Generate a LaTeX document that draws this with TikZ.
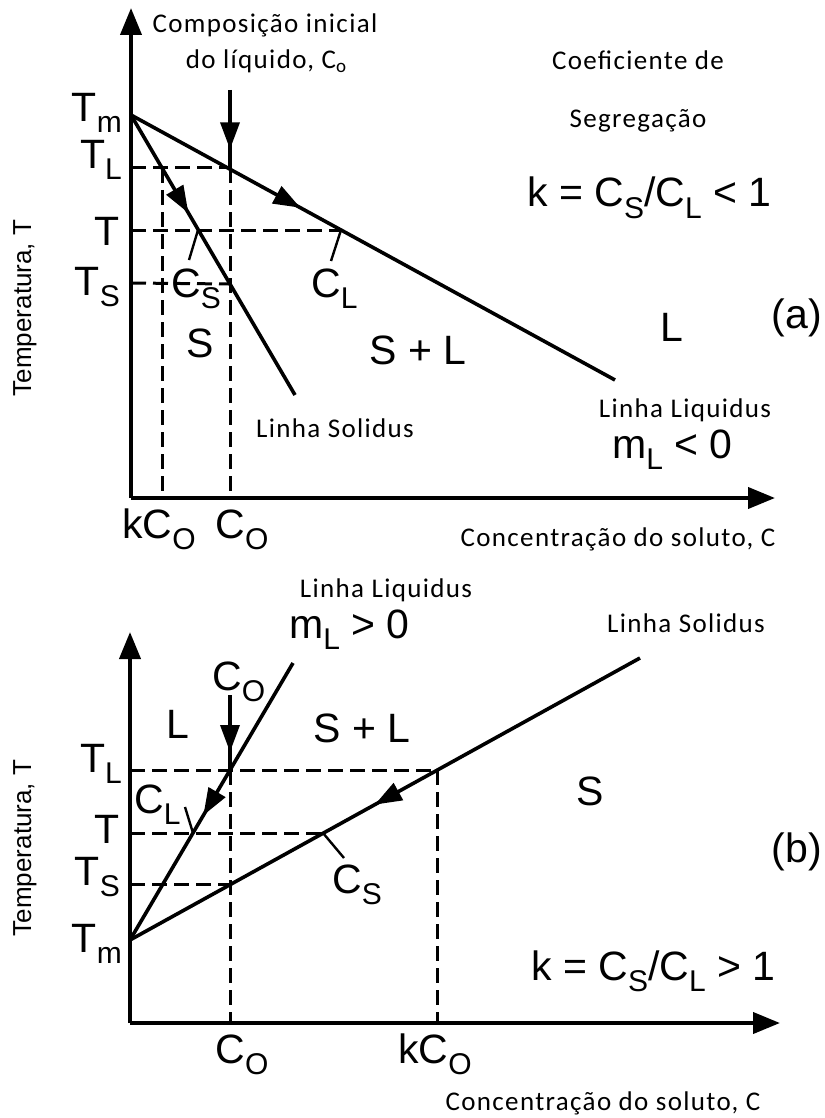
\documentclass[tikz,border=0pt]{standalone}
\usepackage{fontspec}
\setmainfont{Liberation Sans}
\newfontfamily\calibri[LetterSpace=5]{Carlito}
\usetikzlibrary{arrows.meta, positioning, decorations.markings}

\newcommand{\lowsub}[1]{\raisebox{-11pt}{\fontsize{30}{30}\selectfont #1}}
\newcommand{\notesub}[1]{\raisebox{-4pt}{\fontsize{19}{19}\selectfont #1}}

\begin{document}
\begin{tikzpicture}[
  x=1pt, y=-1pt,
  big/.style={font=\fontsize{41}{44}\selectfont, inner sep=0pt},
  note/.style={font=\calibri\fontsize{27}{30}\selectfont, inner sep=0pt},
  ylab/.style={font=\fontsize{26}{28}\selectfont, inner sep=0pt, rotate=90},
  axis/.style={line width=4pt, -{Triangle[length=27pt, width=21pt]}},
  curve/.style={line width=3.6pt},
  guide/.style={line width=3pt, dash pattern=on 15pt off 7pt},
  lead/.style={line width=2.4pt},
  flow/.style={postaction={decorate}, decoration={markings,
      mark=at position #1 with {\arrow{Triangle[length=27pt, width=19pt]}}}},
  ]
\useasboundingbox (0,0) rectangle (824,1118);

% ---------------- (a) k < 1 ----------------
\coordinate (aO) at (131,498);
\coordinate (aYtop) at (131,8);
\coordinate (aXend) at (775,498);
\coordinate (aTm) at (131,115);
\coordinate (aLend) at (615,380);
\coordinate (aSend) at (295,395);
\coordinate (aTL) at (131,168);
\coordinate (aT) at (131,230);
\coordinate (aTS) at (131,283);
\coordinate (aC0top) at (230,90);
\coordinate (aC0L) at (230,168);
\coordinate (aC0S) at (230,284);
\coordinate (aC0ax) at (230,498);
\coordinate (akC0) at (162,168);
\coordinate (akC0ax) at (162,498);
\coordinate (aCS) at (198,230);
\coordinate (aCL) at (341,230);
\coordinate (aCSlead) at (189,260);
\coordinate (aCLlead) at (331,261);

\draw[guide] (aTL) -- (aC0L);
\draw[guide] (aT) -- (aCL);
\draw[guide] (aTS) -- (aC0S);
\draw[guide] (akC0) -- (akC0ax);
\draw[guide] (aC0L) -- (aC0ax);
\draw[axis] (aO) -- (aYtop);
\draw[axis] (aO) -- (aXend);
\draw[curve, flow=0.35] (aTm) -- (aLend);
\draw[curve, flow=0.35] (aTm) -- (aSend);
\draw[curve, flow=0.76] (aC0top) -- (aC0L);
\draw[lead] (aCS) -- (aCSlead);
\draw[lead] (aCL) -- (aCLlead);

\node[big, anchor=base east] (aTmlab) at (122,122) {T\lowsub{m}};
\node[big, anchor=base east] (aTLlab) at (122,168) {T\lowsub{L}};
\node[big, anchor=base east] (aTlab) at (120,245) {T};
\node[big, anchor=base east] (aTSlab) at (120,295) {T\lowsub{S}};
\node[big, anchor=base west] (aCSlab) at (171,297) {C\lowsub{S}};
\node[big, anchor=base west] (aCLlab) at (311,297) {C\lowsub{L}};
\node[big] (aS) at (200,343) {S};
\node[big] (aSL) at (418,350) {S + L};
\node[big] (aL) at (672,327) {L};
\node[big] (apanel) at (797,318) {(a)};
\node[big, anchor=base] (akC0lab) at (159,538) {kC\lowsub{O}};
\node[big, anchor=base] (aC0lab) at (242,538) {C\lowsub{O}};
\node[big, anchor=base west] (amL) at (612,458) {m\lowsub{L} < 0};
\node[big, anchor=base west] (ak) at (527,207) {k = C\lowsub{S}/C\lowsub{L} < 1};
\node[note] (acomp) at (265,25) {Composição inicial};
\node[note] (aliq) at (266,61) {do líquido, C\notesub{o}};
\node[note] (acoef) at (638,60) {Coeficiente de};
\node[note] (aseg) at (638,121) {Segregação};
\node[note] (asol) at (335,428) {Linha Solidus};
\node[note] (aliqline) at (685,410) {Linha Liquidus};
\node[note] (axlab) at (618,539) {Concentração do soluto, C};
\node[ylab] (aylab) at (25,308) {Temperatura, T};

% ---------------- (b) k > 1 ----------------
\coordinate (bO) at (130,1023);
\coordinate (bYtop) at (130,632);
\coordinate (bXend) at (780,1023);
\coordinate (bTm) at (130,940);
\coordinate (bLend) at (293,663);
\coordinate (bSend) at (640,658);
\coordinate (bTL) at (130,770);
\coordinate (bT) at (130,833);
\coordinate (bTS) at (130,884);
\coordinate (bC0top) at (230,695);
\coordinate (bC0L) at (230,770);
\coordinate (bC0S) at (230,884);
\coordinate (bC0ax) at (230,1023);
\coordinate (bkC0) at (437,770);
\coordinate (bkC0ax) at (437,1023);
\coordinate (bCL) at (193,833);
\coordinate (bCS) at (323,833);
\coordinate (bCLlead) at (185,807);
\coordinate (bCSlead) at (344,858);

\draw[guide] (bTL) -- (bkC0);
\draw[guide] (bT) -- (bCS);
\draw[guide] (bTS) -- (bC0S);
\draw[guide] (bC0L) -- (bC0ax);
\draw[guide] (bkC0) -- (bkC0ax);
\draw[axis] (bO) -- (bYtop);
\draw[axis] (bO) -- (bXend);
\draw[curve, flow=0.55] (bLend) -- (bTm);
\draw[curve, flow=0.52] (bSend) -- (bTm);
\draw[curve, flow=0.76] (bC0top) -- (bC0L);
\draw[lead] (bCL) -- (bCLlead);
\draw[lead] (bCS) -- (bCSlead);

\node[big, anchor=base east] (bTLlab) at (122,772) {T\lowsub{L}};
\node[big, anchor=base east] (bTlab) at (120,843) {T};
\node[big, anchor=base east] (bTSlab) at (120,885) {T\lowsub{S}};
\node[big, anchor=base east] (bTmlab) at (122,952) {T\lowsub{m}};
\node[big, anchor=base west] (bCLlab) at (134,813) {C\lowsub{L}};
\node[big, anchor=base west] (bCSlab) at (332,893) {C\lowsub{S}};
\node[big, anchor=base west] (bC0up) at (212,690) {C\lowsub{O}};
\node[big] (bL) at (178,724) {L};
\node[big] (bSL) at (362,728) {S + L};
\node[big] (bS) at (590,791) {S};
\node[big] (bpanel) at (797,852) {(b)};
\node[big, anchor=base west] (bmL) at (289,638) {m\lowsub{L} > 0};
\node[big, anchor=base west] (bk) at (531,980) {k = C\lowsub{S}/C\lowsub{L} > 1};
\node[big, anchor=base] (bC0lab) at (242,1063) {C\lowsub{O}};
\node[big, anchor=base] (bkC0lab) at (435,1063) {kC\lowsub{O}};
\node[note] (bliqline) at (386,590) {Linha Liquidus};
\node[note] (bsol) at (686,623) {Linha Solidus};
\node[note] (bxlab) at (603,1103) {Concentração do soluto, C};
\node[ylab] (bylab) at (25,848) {Temperatura, T};
\end{tikzpicture}
\end{document}
